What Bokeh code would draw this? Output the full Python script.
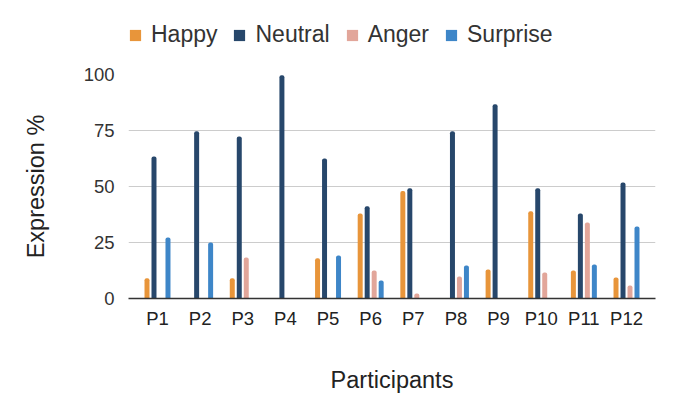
from bokeh.plotting import figure
from bokeh.layouts import column
from bokeh.models import ColumnDataSource, FactorRange, FixedTicker, Legend, LegendItem
from bokeh.transform import dodge
from bokeh.embed import file_html
from bokeh.resources import INLINE

participants = ["P1", "P2", "P3", "P4", "P5", "P6", "P7", "P8", "P9", "P10", "P11", "P12"]
happy = [9, 0, 9, 0, 18, 38, 48, 0, 13, 39, 12.5, 9.4]
neutral = [63.4, 74.7, 72.3, 99.7, 62.5, 41.2, 49.2, 74.7, 86.7, 49.2, 37.9, 51.8]
anger = [0, 0, 18.3, 0, 0, 12.5, 2.2, 9.8, 0, 11.6, 33.9, 5.8]
surprise = [27.2, 25, 0, 0, 19.2, 8, 0, 14.7, 0, 0, 15.2, 32.1]
y_ticks = [0, 25, 50, 75, 100]

series = [
    ("Happy", "happy", "#E8953A", -0.246),
    ("Neutral", "neutral", "#27476B", -0.082),
    ("Anger", "anger", "#E2A69A", 0.082),
    ("Surprise", "surprise", "#3E86C8", 0.246),
]

source = ColumnDataSource(dict(p=participants, happy=happy, neutral=neutral,
                               anger=anger, surprise=surprise))

FONT = "Liberation Sans"
LEG_H = 60

# ---- legend strip (a figure whose only visible content is the legend) ----
lg = figure(width=660, height=LEG_H,
            x_range=FactorRange(factors=participants), y_range=(1000, 1100),
            x_axis_type=None, y_axis_type=None,
            output_backend="svg", toolbar_location=None,
            min_border_left=0, min_border_right=0, min_border_top=0, min_border_bottom=0)
lg.outline_line_color = None
lg.xgrid.grid_line_color = None
lg.ygrid.grid_line_color = None
lg_renderers = []
for name, col, color, off in series:
    r = lg.vbar(x=dodge("p", off, range=lg.x_range), top=col, width=0.117, source=source,
                fill_color=color, line_color=None)
    lg_renderers.append((name, r))
legend = Legend(items=[LegendItem(label=n, renderers=[r]) for n, r in lg_renderers],
                orientation="horizontal", location=(0, 12),
                padding=0, margin=0, spacing=15,
                border_line_color=None, background_fill_alpha=0,
                glyph_width=14, glyph_height=14, label_standoff=9, label_height=20,
                label_text_font=FONT, label_text_font_size="23px", label_text_color="#333333")
lg.add_layout(legend, "center")

# ---- main chart ----
p = figure(
    width=660, height=401 - LEG_H,
    x_range=FactorRange(factors=participants, range_padding=0.18, range_padding_units="absolute"),
    y_range=(0, 100),
    output_backend="svg", toolbar_location=None,
    min_border_left=128, min_border_right=5, min_border_top=74 - LEG_H, min_border_bottom=103,
)
p.outline_line_color = None
p.background_fill_color = "white"
p.border_fill_color = "white"

for name, col, color, off in series:
    p.vbar(x=dodge("p", off, range=p.x_range), top=col, width=0.117, source=source,
           fill_color=color, line_color=None, border_radius=(2, 2, 0, 0))

p.yaxis.ticker = FixedTicker(ticks=y_ticks)
p.ygrid.ticker = FixedTicker(ticks=y_ticks)
p.xgrid.grid_line_color = None
p.ygrid.grid_line_color = "#cccccc"
p.ygrid.grid_line_width = 1

p.yaxis.axis_line_color = None
p.yaxis.major_tick_line_color = None
p.yaxis.minor_tick_line_color = None
p.yaxis.major_label_standoff = 8
p.yaxis.major_label_text_font = FONT
p.yaxis.major_label_text_font_size = "18.5px"
p.yaxis.major_label_text_color = "#333333"
p.yaxis.axis_label = "Expression %"
p.yaxis.axis_label_text_font = FONT
p.yaxis.axis_label_text_font_size = "23.5px"
p.yaxis.axis_label_text_font_style = "normal"
p.yaxis.axis_label_text_color = "#222222"
p.yaxis.axis_label_standoff = 32

p.xaxis.axis_line_color = "#333333"
p.xaxis.axis_line_width = 1.5
p.xaxis.major_tick_line_color = None
p.xaxis.minor_tick_line_color = None
p.xaxis.major_label_standoff = 3
p.xaxis.major_label_text_font = FONT
p.xaxis.major_label_text_font_size = "18.5px"
p.xaxis.major_label_text_color = "#222222"
p.xaxis.axis_label = "Participants"
p.xaxis.axis_label_text_font = FONT
p.xaxis.axis_label_text_font_size = "23.5px"
p.xaxis.axis_label_text_font_style = "normal"
p.xaxis.axis_label_text_color = "#222222"
p.xaxis.axis_label_standoff = 35

layout = column(lg, p, spacing=0)
open("out.html", "w").write(file_html(layout, INLINE))
